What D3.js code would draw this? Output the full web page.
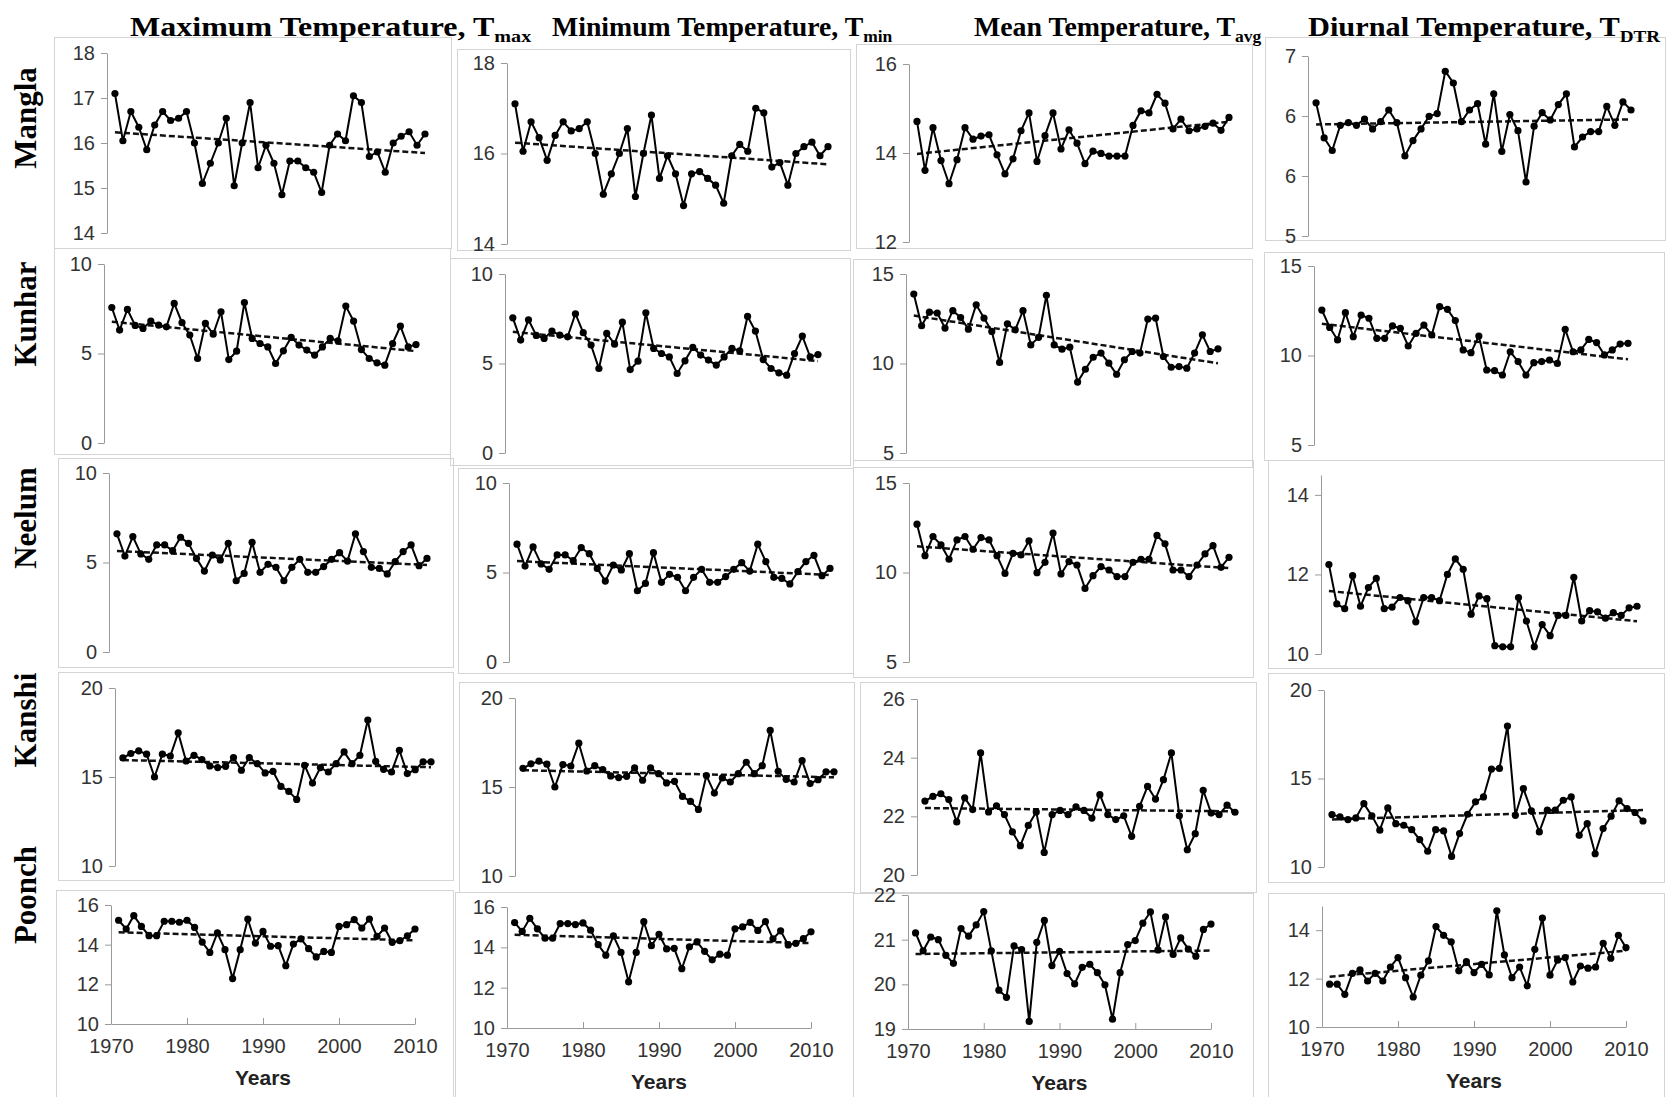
<!DOCTYPE html>
<html>
<head>
<meta charset="utf-8">
<script src="https://cdn.jsdelivr.net/npm/d3@7"></script>
<style>
body { margin: 0; background: #fff; }
.axis path, .axis line { stroke: #999; }
.axis text { font-family: "Liberation Sans", Arial, sans-serif; font-size: 20px; fill: #333; }
</style>
</head>
<body>
<div></div>
<script>
var years = [1971, 1972, 1973, 1974, 1975, 1976, 1977, 1978, 1979, 1980,
	1981, 1982, 1983, 1984, 1985, 1986, 1987, 1988, 1989, 1990,
	1991, 1992, 1993, 1994, 1995, 1996, 1997, 1998, 1999, 2000,
	2001, 2002, 2003, 2004, 2005, 2006, 2007, 2008, 2009, 2010];

var stations = ["Mangla", "Kunhar", "Neelum", "Kanshi", "Poonch"];
var headers = [
	{main: "Maximum Temperature, T", sub: "max"},
	{main: "Minimum Temperature, T", sub: "min"},
	{main: "Mean Temperature, T", sub: "avg"},
	{main: "Diurnal Temperature, T", sub: "DTR"}
];
var yearTicks = [1970, 1980, 1990, 2000, 2010];

// Mangla
var manglaTmax = [17.1, 16.05, 16.7, 16.35, 15.85, 16.4, 16.7, 16.5, 16.55, 16.7, 16.0, 15.1, 15.55, 16.0, 16.55, 15.05, 16.0, 16.9, 15.45, 15.95,
	15.55, 14.85, 15.6, 15.6, 15.45, 15.35, 14.9, 15.95, 16.2, 16.05, 17.05, 16.9, 15.7, 15.8, 15.35, 16.0, 16.15, 16.25, 15.95, 16.2];
var manglaTmin = [17.1, 16.05, 16.7, 16.35, 15.85, 16.4, 16.7, 16.5, 16.55, 16.7, 16.0, 15.1, 15.55, 16.0, 16.55, 15.05, 16.0, 16.85, 15.45, 15.95,
	15.55, 14.85, 15.55, 15.6, 15.45, 15.3, 14.9, 15.95, 16.2, 16.05, 17.0, 16.9, 15.7, 15.8, 15.3, 16.0, 16.15, 16.25, 15.95, 16.15];
var manglaTavg = [14.71, 13.61, 14.57, 13.83, 13.31, 13.85, 14.57, 14.31, 14.38, 14.41, 13.96, 13.53, 13.87, 14.5, 14.9, 13.81, 14.39, 14.9, 14.09, 14.52,
	14.22, 13.76, 14.04, 13.99, 13.93, 13.93, 13.93, 14.62, 14.95, 14.9, 15.32, 15.12, 14.54, 14.76, 14.5, 14.54, 14.6, 14.67, 14.51, 14.8];
var manglaTdtr = [6.48, 6.09, 5.95, 6.23, 6.26, 6.23, 6.30, 6.19, 6.27, 6.40, 6.26, 5.89, 6.06, 6.19, 6.33, 6.36, 6.83, 6.70, 6.27, 6.40,
	6.47, 6.02, 6.58, 5.94, 6.35, 6.17, 5.60, 6.22, 6.37, 6.29, 6.46, 6.58, 5.99, 6.10, 6.16, 6.16, 6.44, 6.23, 6.49, 6.40];

// Kunhar
var kunharTmax = [7.57, 6.31, 7.46, 6.57, 6.40, 6.81, 6.59, 6.49, 7.80, 6.72, 6.03, 4.72, 6.68, 6.08, 7.33, 4.66, 5.13, 7.85, 5.84, 5.56,
	5.37, 4.44, 5.15, 5.90, 5.47, 5.19, 4.91, 5.37, 5.84, 5.71, 7.65, 6.81, 5.22, 4.72, 4.48, 4.35, 5.56, 6.53, 5.37, 5.50];
var kunharTmin = [7.55, 6.31, 7.44, 6.57, 6.40, 6.81, 6.59, 6.49, 7.78, 6.72, 6.03, 4.72, 6.68, 6.08, 7.31, 4.66, 5.13, 7.83, 5.84, 5.56,
	5.37, 4.44, 5.15, 5.90, 5.47, 5.19, 4.91, 5.37, 5.84, 5.71, 7.63, 6.81, 5.22, 4.72, 4.48, 4.35, 5.56, 6.53, 5.37, 5.50];
var kunharTavg = [13.88, 12.11, 12.87, 12.82, 11.98, 12.95, 12.57, 11.92, 13.28, 12.54, 11.79, 10.06, 12.22, 11.88, 12.95, 11.04, 11.46, 13.81, 11.04, 10.80,
	10.91, 8.96, 9.68, 10.35, 10.58, 10.02, 9.40, 10.21, 10.67, 10.58, 12.48, 12.54, 10.39, 9.79, 9.83, 9.74, 10.58, 11.60, 10.67, 10.82];
var kunharTdtr = [12.54, 11.57, 10.87, 12.39, 11.05, 12.26, 12.08, 10.96, 10.96, 11.65, 11.52, 10.53, 11.24, 11.70, 11.15, 12.73, 12.58, 11.95, 10.31, 10.16,
	11.09, 9.19, 9.15, 8.91, 10.21, 9.66, 8.91, 9.60, 9.66, 9.75, 9.56, 11.46, 10.21, 10.31, 10.90, 10.72, 10.03, 10.31, 10.64, 10.68];

// Neelum
var neelumTmax = [6.60, 5.36, 6.45, 5.48, 5.18, 5.98, 5.98, 5.66, 6.41, 6.07, 5.23, 4.52, 5.42, 5.14, 6.07, 3.98, 4.39, 6.13, 4.45, 4.90,
	4.73, 3.98, 4.73, 5.18, 4.45, 4.45, 4.77, 5.18, 5.55, 5.08, 6.60, 5.61, 4.73, 4.67, 4.36, 5.05, 5.61, 5.98, 4.82, 5.23];
var neelumTmin = [6.58, 5.36, 6.43, 5.48, 5.18, 5.98, 5.98, 5.66, 6.39, 6.05, 5.23, 4.52, 5.42, 5.14, 6.05, 3.98, 4.39, 6.11, 4.45, 4.90,
	4.73, 3.98, 4.73, 5.18, 4.45, 4.45, 4.77, 5.18, 5.55, 5.08, 6.58, 5.61, 4.73, 4.67, 4.36, 5.05, 5.61, 5.96, 4.82, 5.23];
var neelumTavg = [12.70, 10.94, 12.01, 11.54, 10.74, 11.82, 12.01, 11.30, 11.95, 11.82, 10.94, 9.95, 11.07, 10.98, 11.77, 9.99, 10.57, 12.20, 9.92, 10.61,
	10.42, 9.11, 9.82, 10.33, 10.14, 9.77, 9.77, 10.57, 10.74, 10.74, 12.07, 11.60, 10.14, 10.14, 9.77, 10.42, 11.04, 11.50, 10.29, 10.85];
var neelumTdtr = [12.25, 11.26, 11.14, 11.97, 11.20, 11.67, 11.90, 11.14, 11.18, 11.42, 11.34, 10.81, 11.42, 11.42, 11.34, 12.00, 12.39, 12.13, 11.00, 11.46,
	11.39, 10.21, 10.18, 10.18, 11.42, 10.83, 10.18, 10.74, 10.46, 10.97, 10.97, 11.93, 10.83, 11.09, 11.06, 10.90, 11.04, 10.97, 11.16, 11.20];

// Kanshi
var kanshiTmax = [16.07, 16.32, 16.47, 16.28, 15.00, 16.28, 16.18, 17.48, 15.90, 16.22, 15.98, 15.62, 15.53, 15.60, 16.09, 15.38, 16.09, 15.75, 15.23, 15.32,
	14.47, 14.19, 13.74, 15.66, 14.66, 15.53, 15.28, 15.75, 16.41, 15.75, 16.22, 18.20, 15.88, 15.43, 15.28, 16.50, 15.19, 15.41, 15.85, 15.85];
var kanshiTmin = [16.05, 16.30, 16.45, 16.28, 15.00, 16.26, 16.18, 17.46, 15.90, 16.20, 15.98, 15.62, 15.53, 15.60, 16.07, 15.38, 16.07, 15.75, 15.23, 15.32,
	14.47, 14.19, 13.74, 15.64, 14.66, 15.51, 15.28, 15.75, 16.39, 15.75, 16.20, 18.18, 15.88, 15.43, 15.28, 16.48, 15.19, 15.41, 15.85, 15.85];
var kanshiTavg = [22.52, 22.68, 22.77, 22.57, 21.81, 22.63, 22.23, 24.16, 22.15, 22.36, 22.06, 21.47, 21.00, 21.69, 22.15, 20.77, 22.06, 22.20, 22.06, 22.32,
	22.20, 21.94, 22.74, 22.06, 21.89, 22.02, 21.32, 22.34, 23.02, 22.59, 23.25, 24.16, 22.02, 20.86, 21.41, 22.89, 22.11, 22.06, 22.38, 22.14];
var kanshiTdtr = [12.96, 12.83, 12.68, 12.77, 13.58, 12.89, 12.08, 13.34, 12.45, 12.36, 12.11, 11.55, 10.89, 12.11, 12.04, 10.60, 11.89, 12.98, 13.68, 13.96,
	15.53, 15.57, 17.96, 12.92, 14.43, 13.17, 11.98, 13.21, 13.21, 13.77, 13.96, 11.79, 12.45, 10.75, 12.17, 12.87, 13.74, 13.30, 13.08, 12.60];

// Poonch
var poonchTmax = [15.23, 14.79, 15.46, 14.92, 14.45, 14.45, 15.18, 15.18, 15.13, 15.23, 14.87, 14.13, 13.61, 14.59, 13.75, 12.29, 13.75, 15.29, 14.08, 14.67,
	13.92, 13.95, 12.94, 14.03, 14.29, 13.80, 13.38, 13.66, 13.61, 14.92, 15.01, 15.26, 14.84, 15.29, 14.42, 14.84, 14.12, 14.20, 14.45, 14.79];
var poonchTmin = [15.23, 14.79, 15.44, 14.92, 14.45, 14.45, 15.18, 15.18, 15.13, 15.21, 14.85, 14.13, 13.61, 14.57, 13.75, 12.29, 13.75, 15.27, 14.08, 14.65,
	13.92, 13.95, 12.94, 14.03, 14.27, 13.80, 13.38, 13.66, 13.61, 14.92, 15.01, 15.24, 14.84, 15.27, 14.42, 14.82, 14.12, 14.20, 14.43, 14.77];
var poonchTavg = [21.15, 20.75, 21.06, 21.00, 20.65, 20.47, 21.25, 21.08, 21.33, 21.63, 20.75, 19.87, 19.71, 20.86, 20.78, 19.17, 20.94, 21.43, 20.42, 20.74,
	20.24, 20.01, 20.38, 20.45, 20.26, 19.99, 19.22, 20.26, 20.89, 20.98, 21.37, 21.62, 20.77, 21.51, 20.67, 21.04, 20.79, 20.63, 21.23, 21.35];
var poonchTdtr = [11.77, 11.77, 11.35, 12.22, 12.36, 11.90, 12.22, 11.90, 12.48, 12.87, 12.04, 11.24, 12.14, 12.73, 14.15, 13.79, 13.52, 12.32, 12.70, 12.25,
	12.59, 12.15, 14.80, 12.98, 12.04, 12.48, 11.70, 13.21, 14.50, 12.14, 12.76, 12.87, 11.86, 12.52, 12.43, 12.48, 13.46, 12.84, 13.79, 13.28];

// tick values and domains
var ticksMangla = [[14, 15, 16, 17, 18], [14, 16, 18], [12, 14, 16], [5, 5.667, 6.333, 7]];
var ticksKunhar = [[0, 5, 10], [0, 5, 10], [5, 10, 15], [5, 10, 15]];
var ticksNeelum = [[0, 5, 10], [0, 5, 10], [5, 10, 15], [10, 12, 14]];
var ticksKanshi = [[10, 15, 20], [10, 15, 20], [20, 22, 24, 26], [10, 15, 20]];
var ticksPoonch = [[10, 12, 14, 16], [10, 12, 14, 16], [19, 20, 21, 22], [10, 12, 14]];
var domainNeelumDtr = [10, 14.5];
var domainPoonchDtr = [10, 15];

var series = [
	[manglaTmax, manglaTmin, manglaTavg, manglaTdtr],
	[kunharTmax, kunharTmin, kunharTavg, kunharTdtr],
	[neelumTmax, neelumTmin, neelumTavg, neelumTdtr],
	[kanshiTmax, kanshiTmin, kanshiTavg, kanshiTdtr],
	[poonchTmax, poonchTmin, poonchTavg, poonchTdtr]
];
var tickSets = [ticksMangla, ticksKunhar, ticksNeelum, ticksKanshi, ticksPoonch];

// panel geometry: box x, y, w, h, x of 1970, x of 2010, y of top of domain, y of bottom
var layout = [
	[[54, 37, 397, 211, 107, 425, 53, 233], [457, 49, 393, 201, 507, 828, 63, 244], [856, 44, 396, 204, 909, 1229, 64, 242], [1265, 37, 400, 203, 1308, 1631, 56, 236]],
	[[54, 248, 396, 206, 104, 416, 264, 443], [450, 258, 400, 207, 505, 818, 274, 453], [853, 259, 399, 208, 906, 1218, 274, 453], [1264, 252, 400, 208, 1314, 1628, 266, 445]],
	[[58, 458, 395, 209, 109, 427, 473, 652], [458, 468, 395, 205, 509, 830, 483, 662], [853, 460, 400, 217, 909, 1229, 483, 662], [1268, 460, 396, 208, 1321, 1637, 475, 654]],
	[[58, 672, 395, 208, 115, 431, 688, 866], [459, 682, 395, 210, 515, 834, 698, 876], [860, 682, 396, 210, 917, 1235, 699, 875], [1268, 673, 396, 209, 1324, 1643, 690, 867]],
	[[56, 890, 397, 210, 111, 415, 905, 1024], [455, 892, 398, 210, 507, 811, 907, 1028], [853, 893, 400, 210, 908, 1211, 895, 1029], [1268, 893, 396, 210, 1322, 1626, 906, 1027]]
];
var headerSpan = [[130, 532], [552, 893], [974, 1262], [1308, 1661]];
var rowLabelY = [118, 314, 518, 720, 895];

var svg = d3.select("div")
	.append("svg")
	.attr("width", 1670)
	.attr("height", 1097);

function trendOf(xs, ys) {
	var n = xs.length, sx = d3.sum(xs), sy = d3.sum(ys);
	var sxy = d3.sum(xs, (d, i) => d * ys[i]), sxx = d3.sum(xs, d => d * d);
	var b = (n * sxy - sx * sy) / (n * sxx - sx * sx);
	var a = (sy - b * sx) / n;
	return x => a + b * x;
}

function drawPanel(values, ticks, geo, domain, bottom) {
	var g = svg.append("g");
	g.append("rect")
		.attr("x", geo[0] + 0.5).attr("y", geo[1] + 0.5)
		.attr("width", geo[2]).attr("height", geo[3])
		.attr("fill", "none").attr("stroke", "#d4d4d4");

	var x = d3.scaleLinear().domain([1970, 2010]).range([geo[4], geo[5]]);
	var y = d3.scaleLinear().domain(domain || [ticks[0], ticks[ticks.length - 1]]).range([geo[7], geo[6]]);

	var fmt = ticks[1] - ticks[0] < 1 ? d3.format(".0f") : d3.format("d");
	g.append("g")
		.attr("class", "axis")
		.attr("transform", "translate(" + geo[4] + ",0)")
		.call(d3.axisLeft(y).tickValues(ticks).tickFormat(fmt).tickSizeInner(6).tickSizeOuter(0).tickPadding(6));

	if (bottom) {
		g.append("g")
			.attr("class", "axis")
			.attr("transform", "translate(0," + geo[7] + ")")
			.call(d3.axisBottom(x).tickValues(yearTicks).tickFormat(d3.format("d")).tickSizeInner(-6).tickSizeOuter(0).tickPadding(15));
		g.append("text")
			.attr("x", (geo[4] + geo[5]) / 2)
			.attr("y", geo[7] + 61)
			.attr("text-anchor", "middle")
			.style("font-family", "'Liberation Sans', Arial, sans-serif")
			.style("font-weight", "bold")
			.style("font-size", "21px")
			.style("fill", "#222")
			.text("Years");
	}

	var trend = trendOf(years, values);
	g.append("line")
		.attr("x1", x(years[0])).attr("y1", y(trend(years[0])))
		.attr("x2", x(years[years.length - 1])).attr("y2", y(trend(years[years.length - 1])))
		.attr("stroke", "#111").attr("stroke-width", 2.5)
		.attr("stroke-dasharray", "6,3");

	var line = d3.line().x((d, i) => x(years[i])).y(d => y(d));
	g.append("path")
		.datum(values)
		.attr("d", line)
		.attr("fill", "none")
		.attr("stroke", "#000")
		.attr("stroke-width", 2);

	g.selectAll("circle")
		.data(values)
		.enter().append("circle")
		.attr("cx", (d, i) => x(years[i]))
		.attr("cy", d => y(d))
		.attr("r", 3.6)
		.style("fill", "#000");
}

series.forEach((row, r) => {
	row.forEach((values, c) => {
		var domain = null;
		if (r == 2 && c == 3) domain = domainNeelumDtr;
		if (r == 4 && c == 3) domain = domainPoonchDtr;
		drawPanel(values, tickSets[r][c], layout[r][c], domain, r == 4);
	});
});

headers.forEach((h, i) => {
	var t = svg.append("text")
		.attr("x", 0)
		.attr("y", 0)
		.style("font-family", "'Liberation Serif', 'Times New Roman', serif")
		.style("font-weight", "bold")
		.style("font-size", "27px")
		.style("fill", "#000");
	t.append("tspan").text(h.main);
	t.append("tspan").attr("dy", 6).style("font-size", "17px").text(h.sub);
	// stretch each header over the width it takes in the figure
	var w = t.node().getBBox().width;
	var span = headerSpan[i];
	t.attr("transform", "translate(" + span[0] + ",36) scale(" + ((span[1] - span[0]) / w) + ",1)");
});

stations.forEach((s, i) => {
	svg.append("text")
		.attr("transform", "translate(36," + rowLabelY[i] + ") rotate(-90)")
		.attr("text-anchor", "middle")
		.style("font-family", "'Liberation Serif', 'Times New Roman', serif")
		.style("font-weight", "bold")
		.style("font-size", "31px")
		.style("fill", "#000")
		.text(s);
});
</script>
</body>
</html>
